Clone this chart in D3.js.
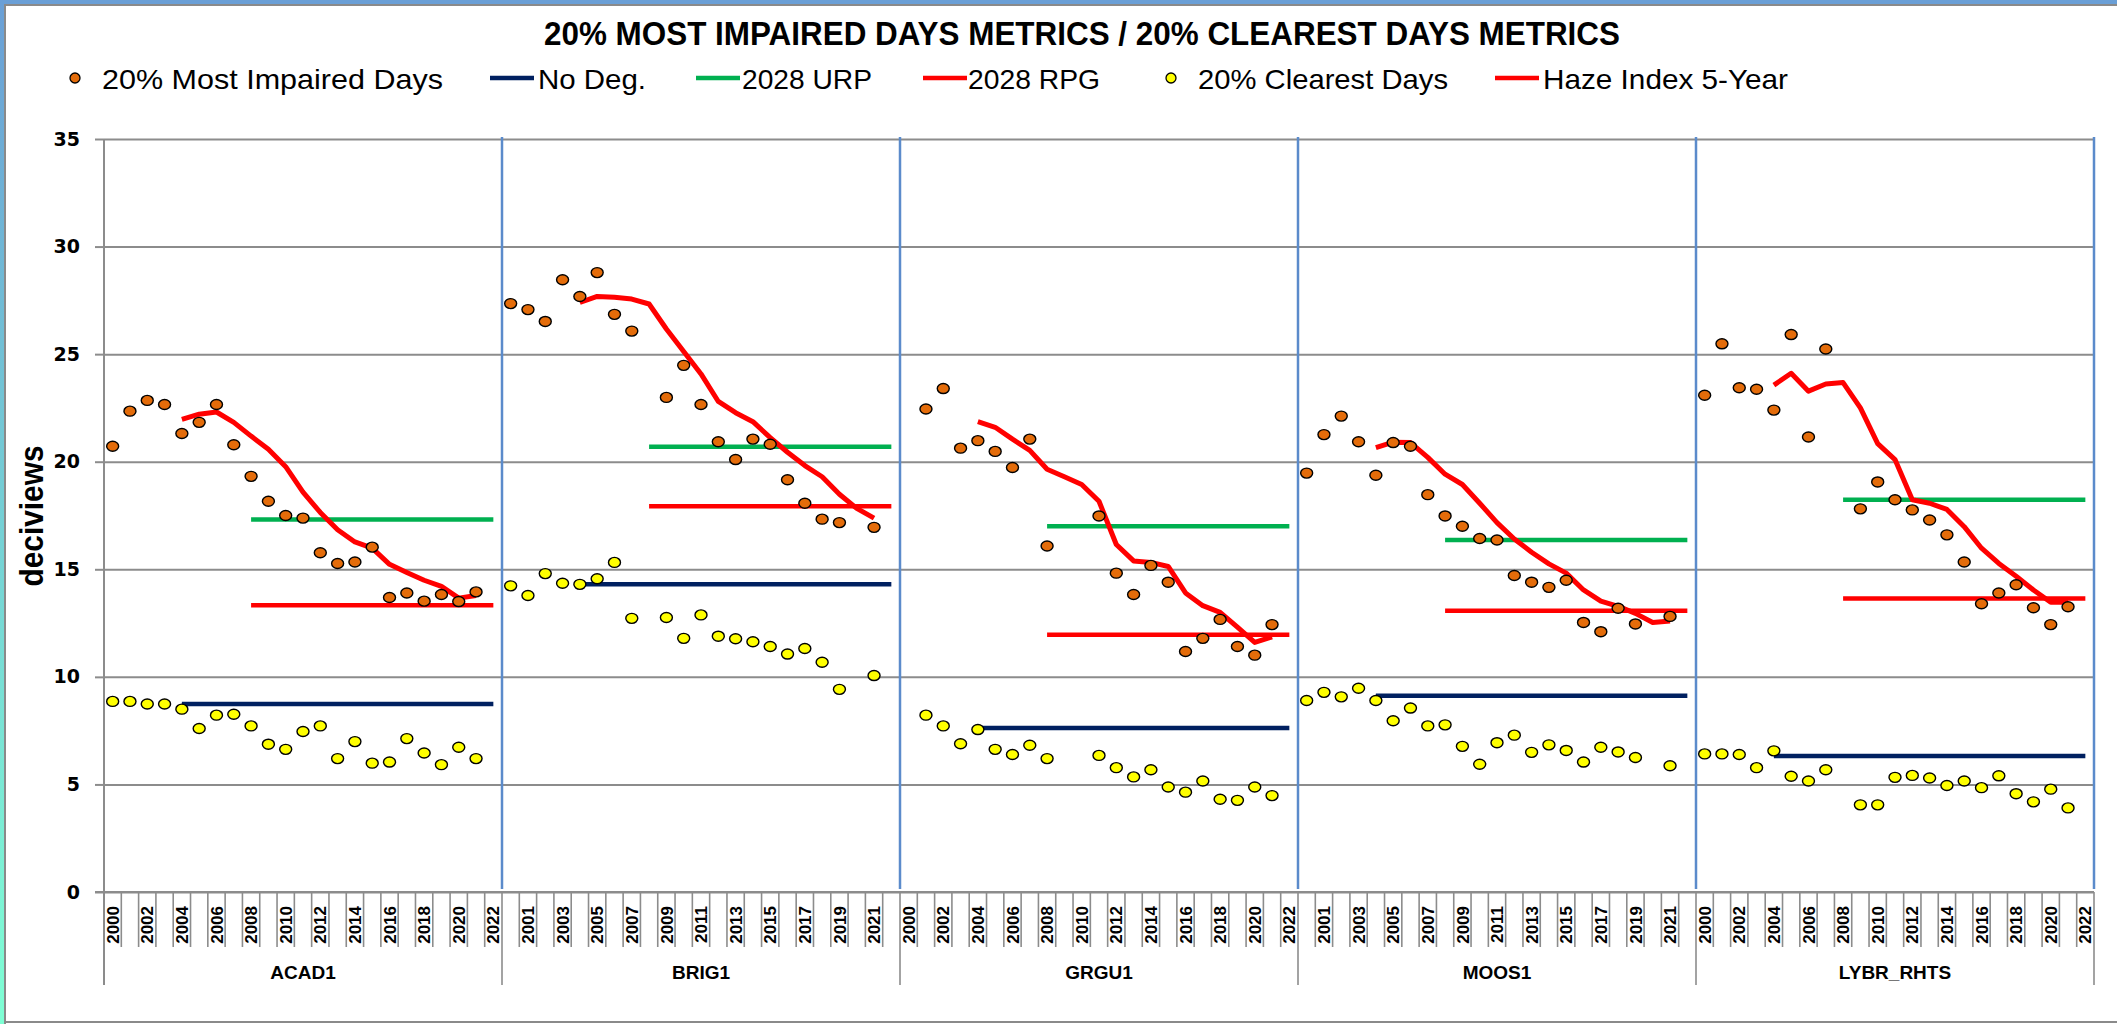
<!DOCTYPE html>
<html>
<head>
<meta charset="utf-8">
<script src="https://cdn.jsdelivr.net/npm/d3@7.9.0/dist/d3.min.js"></script>
<style>
  body { margin: 0; background: #fff; }
  svg { display: block; }
</style>
</head>
<body>
<svg id="chart" width="2117" height="1024"></svg>
<script>
// categories
const sites = ['ACAD1', 'BRIG1', 'GRGU1', 'MOOS1', 'LYBR_RHTS'];
const years = [2000, 2001, 2002, 2003, 2004, 2005, 2006, 2007, 2008, 2009, 2010, 2011,
  2012, 2013, 2014, 2015, 2016, 2017, 2018, 2019, 2020, 2021, 2022];

// 20% most impaired days, one row per site, one value per year (null = no data)
const impaired = [
  [20.72, 22.35, 22.85, 22.66, 21.31, 21.83, 22.66, 20.79, 19.32, 18.16, 17.50, 17.38, 15.77, 15.27, 15.34, 16.03, 13.69, 13.90, 13.52, 13.83, 13.50, 13.95, null],
  [27.35, 27.07, 26.52, 28.46, 27.68, 28.79, 26.85, 26.07, null, 22.99, 24.48, 22.66, 20.93, 20.10, 21.05, 20.81, 19.16, 18.07, 17.33, 17.17, null, 16.95, null],
  [null, 22.45, 23.40, 20.63, 20.98, 20.48, 19.73, 21.05, 16.08, null, null, 17.48, 14.82, 13.83, 15.18, 14.40, 11.18, 11.79, 12.67, 11.41, 11.01, 12.43, null],
  [19.47, 21.26, 22.12, 20.93, 19.37, 20.89, 20.72, 18.47, 17.48, 17.00, 16.43, 16.36, 14.71, 14.40, 14.16, 14.49, 12.53, 12.10, 13.19, 12.46, null, 12.81, null],
  [23.09, 25.48, 23.44, 23.37, 22.40, 25.91, 21.15, 25.24, null, 17.81, 19.06, 18.23, 17.76, 17.29, 16.60, 15.34, 13.40, 13.90, 14.28, 13.21, 12.43, 13.26, null]
];

// 20% clearest days
const clearest = [
  [8.86, 8.86, 8.74, 8.74, 8.50, 7.60, 8.22, 8.26, 7.72, 6.87, 6.63, 7.46, 7.72, 6.20, 6.99, 5.99, 6.04, 7.13, 6.46, 5.92, 6.73, 6.20, null],
  [14.23, 13.78, 14.80, 14.35, 14.30, 14.56, 15.32, 12.72, null, 12.76, 11.79, 12.88, 11.89, 11.77, 11.63, 11.41, 11.06, 11.32, 10.68, 9.42, null, 10.06, null],
  [null, 8.22, 7.72, 6.89, 7.55, 6.63, 6.39, 6.82, 6.20, null, null, 6.35, 5.78, 5.35, 5.68, 4.88, 4.64, 5.16, 4.31, 4.26, 4.88, 4.48, null],
  [8.90, 9.28, 9.07, 9.47, 8.90, 7.96, 8.55, 7.72, 7.77, 6.77, 5.94, 6.94, 7.29, 6.49, 6.84, 6.58, 6.04, 6.73, 6.51, 6.25, null, 5.87, null],
  [6.42, 6.42, 6.39, 5.78, 6.56, 5.38, 5.16, 5.68, null, 4.05, 4.05, 5.33, 5.42, 5.30, 4.95, 5.16, 4.85, 5.40, 4.57, 4.19, 4.78, 3.91, null]
];

// haze index 5-year average
const haze = [
  [null, null, null, null, 21.97, 22.21, 22.31, 21.83, 21.19, 20.58, 19.77, 18.59, 17.64, 16.84, 16.27, 15.98, 15.23, 14.85, 14.49, 14.21, 13.66, 13.78, null],
  [null, null, null, null, 27.40, 27.68, 27.64, 27.56, 27.33, 26.17, 25.12, 24.08, 22.80, 22.28, 21.86, 21.12, 20.44, 19.82, 19.30, 18.49, 17.83, 17.38, null],
  [null, null, null, null, 21.86, 21.60, 21.05, 20.53, 19.65, 19.30, 18.94, 18.16, 16.15, 15.39, 15.32, 15.13, 13.90, 13.31, 13.00, 12.31, 11.60, 11.86, null],
  [null, null, null, null, 20.65, 20.91, 20.89, 20.20, 19.42, 18.94, 18.07, 17.17, 16.41, 15.79, 15.25, 14.82, 14.04, 13.52, 13.28, 12.95, 12.53, 12.60, null],
  [null, null, null, null, 23.56, 24.11, 23.28, 23.61, 23.68, 22.50, 20.84, 20.10, 18.23, 18.07, 17.78, 16.98, 15.98, 15.27, 14.68, 14.04, 13.47, 13.47, null]
];

// reference levels per site
const noDeg = [8.74, 14.30, 7.62, 9.12, 6.32];
const urp2028 = [17.31, 20.70, 17.00, 16.36, 18.23];
const rpg2028 = [13.33, 17.93, 11.96, 13.07, 13.64];
const noDegFrom = 2004, goalFrom = 2008, goalTo = 2022;

const yTicks = [0, 5, 10, 15, 20, 25, 30, 35];

const colors = {
  impaired: '#E46C0A', clearest: '#FFFF00', noDeg: '#002060',
  urp: '#00B050', rpg: '#FF0000', haze: '#FF0000',
  grid: '#8C8C8C', sep: '#5B8BCB'
};

const W = 2117, H = 1024;
const plot = { left: 104, right: 2094, top: 139, bottom: 892 };
const svg = d3.select('#chart');
const FONT = '"Liberation Sans", Arial, sans-serif';

// frame
const grad = svg.append('defs').append('linearGradient')
  .attr('id', 'edge').attr('x1', 0).attr('y1', 0).attr('x2', 0).attr('y2', 1);
grad.append('stop').attr('offset', 0).attr('stop-color', '#6A9FD6');
grad.append('stop').attr('offset', 1).attr('stop-color', '#7FFFD4');
svg.append('rect').attr('width', W).attr('height', 4).attr('fill', '#6A9FD6');
svg.append('rect').attr('width', 4).attr('height', H).attr('fill', 'url(#edge)');
svg.append('line').attr('x1', 4).attr('x2', W).attr('y1', 5).attr('y2', 5)
  .attr('stroke', '#8A8A8A').attr('stroke-width', 2);
svg.append('line').attr('x1', 5).attr('x2', 5).attr('y1', 4).attr('y2', H)
  .attr('stroke', '#8A8A8A').attr('stroke-width', 2);
svg.append('line').attr('x1', 5).attr('x2', W).attr('y1', 1022).attr('y2', 1022)
  .attr('stroke', '#8A8A8A').attr('stroke-width', 2);

// scales
const keys = sites.flatMap(s => years.map(yr => `${s}|${yr}`));
const x = d3.scaleBand().domain(keys).range([plot.left, plot.right]);
const cx = (s, yr) => x(`${s}|${yr}`) + x.bandwidth() / 2;
const y = d3.scaleLinear().domain([0, 35]).range([plot.bottom, plot.top]);

// gridlines
svg.append('g').attr('class', 'grid')
  .attr('transform', `translate(${plot.left},0)`)
  .call(d3.axisLeft(y).tickValues(yTicks).tickSize(-(plot.right - plot.left)).tickFormat(''))
  .call(g => g.select('.domain').remove())
  .call(g => g.selectAll('line').attr('stroke', colors.grid).attr('stroke-width', 2));

// y axis labels + small outer ticks
svg.append('g').attr('class', 'y-axis')
  .attr('transform', `translate(${plot.left},0)`)
  .call(d3.axisLeft(y).tickValues(yTicks).tickSize(9).tickPadding(15))
  .call(g => g.select('.domain').remove())
  .call(g => g.selectAll('line').attr('stroke', colors.grid).attr('stroke-width', 2))
  .call(g => g.selectAll('text')
    .attr('font-family', '"DejaVu Sans", Verdana, sans-serif')
    .attr('font-weight', 'bold').attr('font-size', 19).attr('fill', '#000'));

// left axis line
svg.append('line').attr('x1', plot.left).attr('x2', plot.left)
  .attr('y1', plot.top).attr('y2', 985)
  .attr('stroke', colors.grid).attr('stroke-width', 2);

// blue site separators
const sepX = sites.slice(1).map(s => x(`${s}|${years[0]}`)).concat([plot.right]);
svg.append('g').selectAll('line').data(sepX).join('line')
  .attr('x1', d => d).attr('x2', d => d)
  .attr('y1', plot.top - 2).attr('y2', plot.bottom - 3)
  .attr('stroke', colors.sep).attr('stroke-width', 2.5);

// category axis: boundary ticks, year labels, site labels
const bottomG = svg.append('g').attr('class', 'x-axis');
bottomG.append('line').attr('x1', 95).attr('x2', plot.right)
  .attr('y1', plot.bottom).attr('y2', plot.bottom)
  .attr('stroke', colors.grid).attr('stroke-width', 2);

const bounds = keys.map((k, i) => ({ x: x(k), group: i % years.length === 0 }))
  .concat([{ x: plot.right, group: true }]);
bottomG.append('g').selectAll('line').data(bounds).join('line')
  .attr('x1', d => d.x).attr('x2', d => d.x)
  .attr('y1', plot.bottom).attr('y2', d => d.group ? 985 : 947)
  .attr('stroke', colors.grid).attr('stroke-width', 1.6);

svg.append('g')
  .attr('transform', `translate(0,${plot.bottom})`)
  .call(d3.axisBottom(x).tickValues(keys.filter((k, i) => i % 2 === 0))
    .tickSize(0).tickFormat(k => k.split('|')[1]))
  .call(g => g.select('.domain').remove())
  .call(g => g.selectAll('text')
    .attr('transform', 'rotate(-90)')
    .attr('x', -14).attr('y', 0).attr('dy', '0.36em')
    .attr('text-anchor', 'end')
    .attr('font-family', FONT).attr('font-weight', 'bold')
    .attr('font-size', 17).attr('fill', '#000'));

svg.append('g').selectAll('text').data(sites).join('text')
  .attr('x', s => (x(`${s}|${years[0]}`) + x(`${s}|${years[years.length - 1]}`) + x.bandwidth()) / 2)
  .attr('y', 979)
  .attr('text-anchor', 'middle')
  .attr('font-family', FONT).attr('font-weight', 'bold').attr('font-size', 19)
  .text(s => s);

// y axis title
svg.append('text')
  .attr('transform', 'translate(43,516) rotate(-90)')
  .attr('text-anchor', 'middle')
  .attr('font-family', FONT).attr('font-weight', 'bold').attr('font-size', 33)
  .attr('textLength', 141).attr('lengthAdjust', 'spacingAndGlyphs')
  .text('deciviews');

// reference lines
const refs = [
  { vals: noDeg, from: noDegFrom, color: colors.noDeg },
  { vals: urp2028, from: goalFrom, color: colors.urp },
  { vals: rpg2028, from: goalFrom, color: colors.rpg }
];
const refG = svg.append('g');
refs.forEach(r => {
  refG.append('g').selectAll('line').data(sites).join('line')
    .attr('x1', (s) => cx(s, r.from)).attr('x2', s => cx(s, goalTo))
    .attr('y1', (s, i) => y(r.vals[i])).attr('y2', (s, i) => y(r.vals[i]))
    .attr('stroke', r.color).attr('stroke-width', 4.5);
});

// haze index lines
const hazeLine = d3.line()
  .defined(d => d.v != null)
  .x(d => cx(d.site, d.year))
  .y(d => y(d.v));
svg.append('g').selectAll('path').data(sites).join('path')
  .attr('d', (s, i) => hazeLine(years.map((yr, j) => ({ site: s, year: yr, v: haze[i][j] }))))
  .attr('fill', 'none').attr('stroke', colors.haze).attr('stroke-width', 5)
  .attr('stroke-linejoin', 'round');

// dots
function drawDots(series, fill) {
  const pts = sites.flatMap((s, i) => years.map((yr, j) => ({ site: s, year: yr, v: series[i][j] })))
    .filter(d => d.v != null);
  svg.append('g').selectAll('ellipse').data(pts).join('ellipse')
    .attr('cx', d => cx(d.site, d.year)).attr('cy', d => y(d.v))
    .attr('rx', 6).attr('ry', 5)
    .attr('fill', fill).attr('stroke', '#000').attr('stroke-width', 1.4);
}
drawDots(impaired, colors.impaired);
drawDots(clearest, colors.clearest);

// title
svg.append('text')
  .attr('x', 544).attr('y', 45)
  .attr('font-family', FONT).attr('font-weight', 'bold').attr('font-size', 34)
  .attr('textLength', 1076).attr('lengthAdjust', 'spacingAndGlyphs')
  .text('20% MOST IMPAIRED DAYS METRICS / 20% CLEAREST DAYS METRICS');

// legend
const legendItems = [
  { label: '20% Most Impaired Days', type: 'dot', color: colors.impaired, mx: 75, tx: 102, tw: 341 },
  { label: 'No Deg.', type: 'line', color: colors.noDeg, mx: 490, tx: 538, tw: 108 },
  { label: '2028 URP', type: 'line', color: colors.urp, mx: 696, tx: 742, tw: 130 },
  { label: '2028 RPG', type: 'line', color: colors.rpg, mx: 923, tx: 968, tw: 132 },
  { label: '20% Clearest Days', type: 'dot', color: colors.clearest, mx: 1171, tx: 1198, tw: 250 },
  { label: 'Haze Index 5-Year', type: 'line', color: colors.haze, mx: 1495, tx: 1543, tw: 245 }
];
const leg = svg.append('g').selectAll('g').data(legendItems).join('g');
leg.filter(d => d.type === 'dot').append('circle')
  .attr('cx', d => d.mx).attr('cy', 78).attr('r', 5)
  .attr('fill', d => d.color).attr('stroke', '#000').attr('stroke-width', 1.3);
leg.filter(d => d.type === 'line').append('line')
  .attr('x1', d => d.mx).attr('x2', d => d.mx + 44)
  .attr('y1', 78).attr('y2', 78)
  .attr('stroke', d => d.color).attr('stroke-width', 4.5);
leg.append('text')
  .attr('x', d => d.tx).attr('y', 89)
  .attr('font-family', FONT).attr('font-size', 28)
  .attr('textLength', d => d.tw).attr('lengthAdjust', 'spacingAndGlyphs')
  .text(d => d.label);
</script>
</body>
</html>
